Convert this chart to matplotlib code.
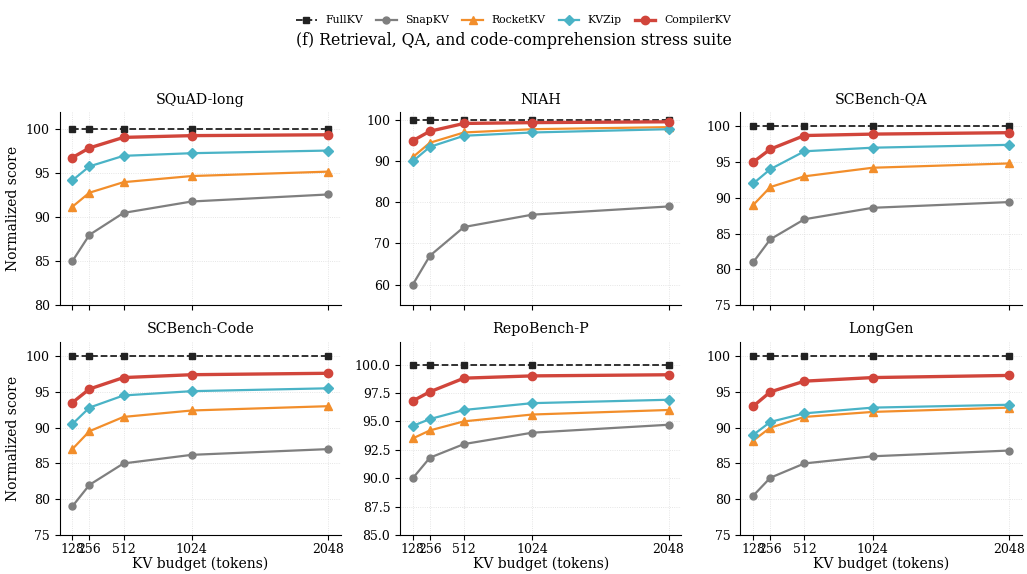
import numpy as np
import matplotlib
matplotlib.use("Agg")
import matplotlib.pyplot as plt

plt.rcParams['font.family'] = 'DejaVu Serif'

budgets = [128, 256, 512, 1024, 2048]
tasks = ['SQuAD-long', 'NIAH', 'SCBench-QA', 'SCBench-Code', 'RepoBench-P', 'LongGen']
methods = ['FullKV', 'SnapKV', 'RocketKV', 'KVZip', 'CompilerKV']

fullkv = [100, 100, 100, 100, 100]
snapkv = {
    'SQuAD-long':   [85.0, 88.0, 90.5, 91.8, 92.6],
    'NIAH':         [60.0, 67.0, 74.0, 77.0, 79.0],
    'SCBench-QA':   [81.0, 84.2, 87.0, 88.6, 89.4],
    'SCBench-Code': [79.0, 82.0, 85.0, 86.2, 87.0],
    'RepoBench-P':  [90.0, 91.8, 93.0, 94.0, 94.7],
    'LongGen':      [80.5, 83.0, 85.0, 86.0, 86.8],
}
rocketkv = {
    'SQuAD-long':   [91.2, 92.8, 94.0, 94.7, 95.2],
    'NIAH':         [91.0, 94.5, 97.0, 97.8, 98.3],
    'SCBench-QA':   [89.0, 91.5, 93.0, 94.2, 94.8],
    'SCBench-Code': [87.0, 89.5, 91.5, 92.4, 93.0],
    'RepoBench-P':  [93.5, 94.2, 95.0, 95.6, 96.0],
    'LongGen':      [88.2, 90.0, 91.5, 92.2, 92.8],
}
kvzip = {
    'SQuAD-long':   [94.2, 95.8, 97.0, 97.3, 97.6],
    'NIAH':         [90.0, 93.5, 96.2, 97.0, 97.8],
    'SCBench-QA':   [92.0, 94.0, 96.5, 97.0, 97.4],
    'SCBench-Code': [90.5, 92.8, 94.5, 95.1, 95.5],
    'RepoBench-P':  [94.6, 95.2, 96.0, 96.6, 96.9],
    'LongGen':      [89.0, 90.8, 92.0, 92.8, 93.2],
}
compilerkv = {
    'SQuAD-long':   [96.8, 97.9, 99.1, 99.3, 99.4],
    'NIAH':         [95.0, 97.3, 99.2, 99.4, 99.6],
    'SCBench-QA':   [95.0, 96.8, 98.7, 98.9, 99.1],
    'SCBench-Code': [93.5, 95.4, 97.0, 97.4, 97.6],
    'RepoBench-P':  [96.8, 97.6, 98.8, 99.0, 99.1],
    'LongGen':      [93.0, 95.0, 96.5, 97.0, 97.3],
}
ylims = {
    'SQuAD-long': (80, 102), 'NIAH': (55, 102), 'SCBench-QA': (75, 102),
    'SCBench-Code': (75, 102), 'RepoBench-P': (85, 102), 'LongGen': (75, 102),
}

fig, axes = plt.subplots(2, 3, figsize=(10.27, 5.74), dpi=100, sharex=True)
fig.subplots_adjust(left=0.058, right=0.995, top=0.805, bottom=0.068,
                    wspace=0.21, hspace=0.19)

for ax, t in zip(axes.flat, tasks):
    ax.plot(budgets, fullkv, color='#222222', ls='--', marker='s', ms=5, lw=1.3, label='FullKV')
    ax.plot(budgets, snapkv[t], color='#7f7f7f', marker='o', ms=5, lw=1.6, label='SnapKV')
    ax.plot(budgets, rocketkv[t], color='#f28e2b', marker='^', ms=6, lw=1.6, label='RocketKV')
    ax.plot(budgets, kvzip[t], color='#4ab3c6', marker='D', ms=5, lw=1.6, label='KVZip')
    ax.plot(budgets, compilerkv[t], color='#d1453b', marker='o', ms=6, lw=2.4, label='CompilerKV')
    ax.set_title(t, fontsize=10.3)
    ax.set_ylim(*ylims[t])
    ax.set_xticks(budgets)
    ax.grid(True, ls=':', lw=0.6, color='#dddddd')
    ax.spines['top'].set_visible(False)
    ax.spines['right'].set_visible(False)
    ax.tick_params(labelsize=9)
    ax.tick_params(axis='x', pad=2)

for ax in axes[1]:
    ax.set_xticklabels([str(b) for b in budgets])
    ax.set_xlabel('KV budget (tokens)', fontsize=10, labelpad=1)
for ax in axes[:, 0]:
    ax.set_ylabel('Normalized score', fontsize=10)

handles, labels = axes[0, 0].get_legend_handles_labels()
fig.legend(handles, labels, loc='upper center', ncol=5, frameon=False,
           fontsize=7.8, bbox_to_anchor=(0.5, 0.99), handlelength=1.9, columnspacing=1.2)
fig.suptitle('(f) Retrieval, QA, and code-comprehension stress suite', fontsize=11.3, y=0.945)

fig.savefig('out.png', dpi=100)
